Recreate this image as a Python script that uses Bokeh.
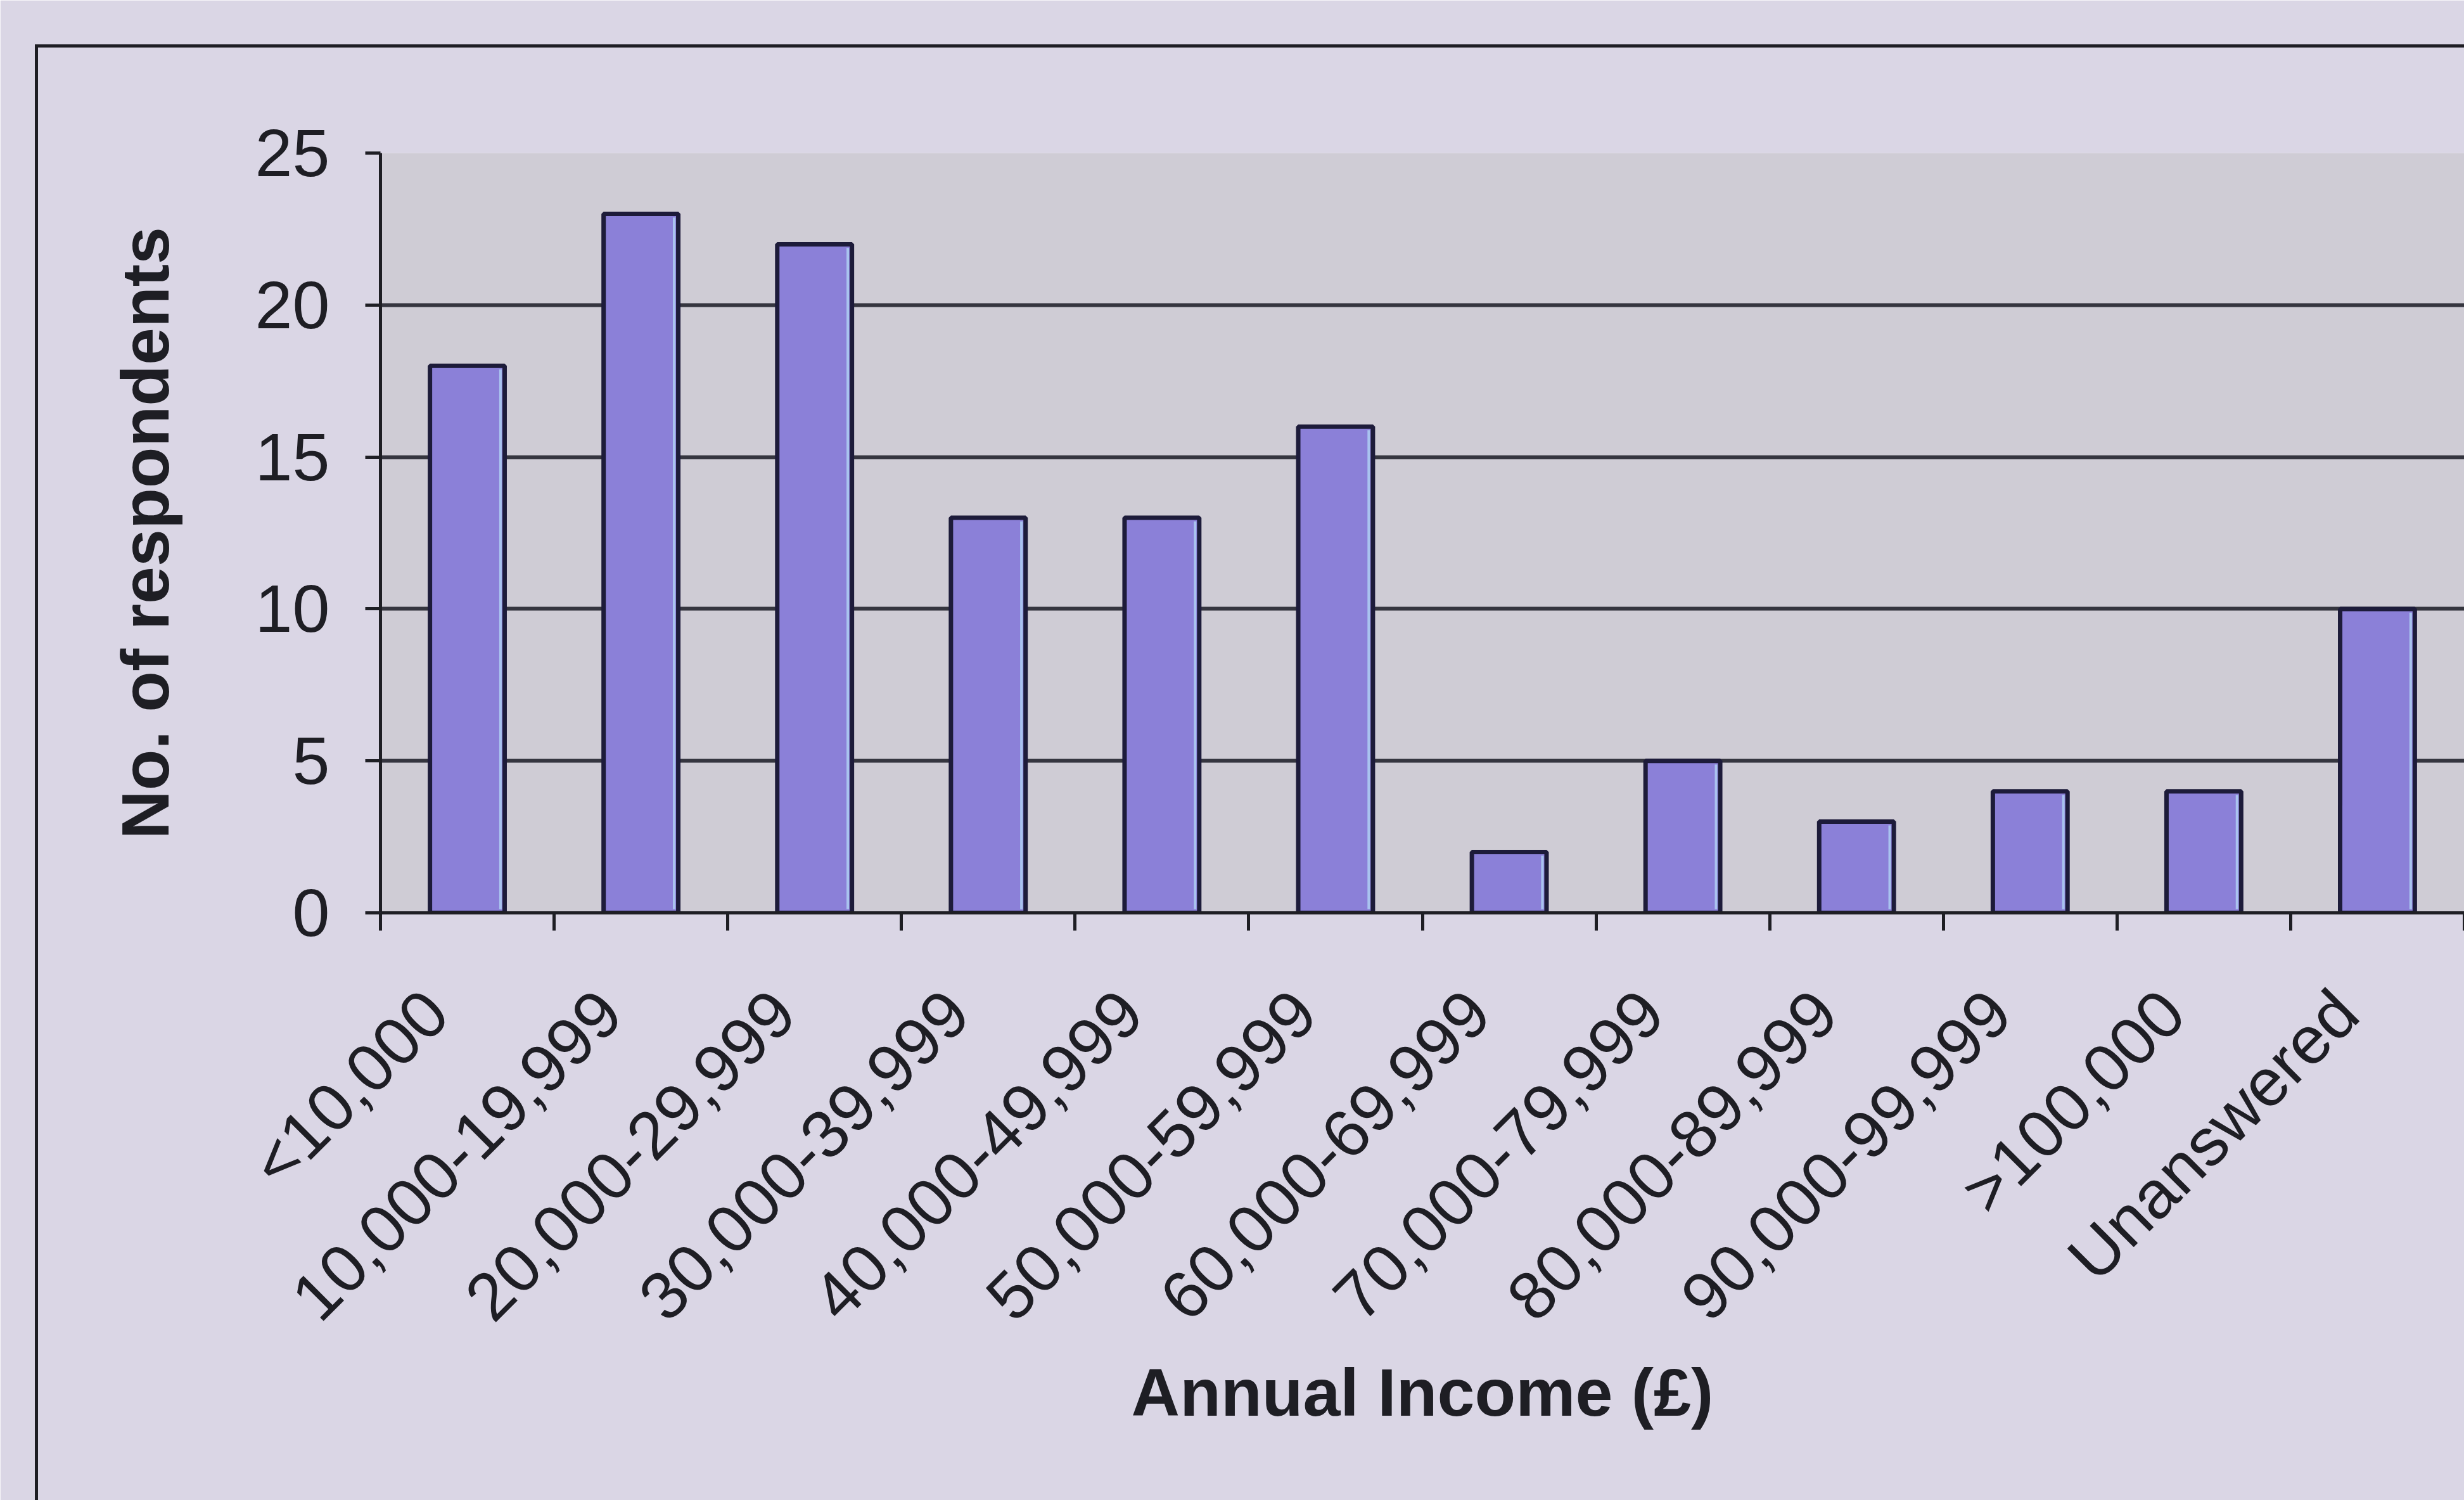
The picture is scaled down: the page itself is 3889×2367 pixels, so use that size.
import math
from bokeh.plotting import figure
from bokeh.models import Range1d, FixedTicker, LinearAxis, Grid, InlineStyleSheet
from bokeh.embed import file_html
from bokeh.resources import INLINE

# ---- data ----
categories = ["<10,000", "10,000-19,999", "20,000-29,999", "30,000-39,999",
              "40,000-49,999", "50,000-59,999", "60,000-69,999", "70,000-79,999",
              "80,000-89,999", "90,000-99,999", ">100,000", "Unanswered"]
respondents = [18, 23, 22, 13, 13, 16, 2, 5, 3, 4, 4, 10]
y_ticks = [0, 5, 10, 15, 20, 25]
x_title = "Annual Income (£)"
y_title = "No. of respondents"

# ---- styles ----
W, H = 3889, 2367
PAGE_BG = "#dad6e5"
PLOT_BG = "#cfccd5"
BAR_FILL = "#8b80d8"
BAR_LINE = "#1d1b3a"
BAR_HILITE = "#a9c3ef"
INK = "#1e1e24"
FONT = "Liberation Sans"
BAR_W = 0.43
LABEL_SHIFT = 0.18   # rotated labels end a little left of the category centre

n = len(categories)
centers = [i + 1 for i in range(n)]
bounds = [i + 0.5 for i in range(n + 1)]
label_pos = [c - LABEL_SHIFT for c in centers]

p = figure(width=W, height=H, output_backend="svg", toolbar_location=None,
           x_range=Range1d(0.5, n + 0.5), y_range=Range1d(0, 25),
           x_axis_type=None, y_axis_type=None,
           min_border_left=600, min_border_top=241, min_border_right=0,
           min_border_bottom=H - 1440)

p.background_fill_color = PLOT_BG
p.border_fill_color = PAGE_BG
p.outline_line_color = None

# y axis
yax = LinearAxis(ticker=FixedTicker(ticks=y_ticks, minor_ticks=[]))
yax.axis_label = y_title
yax.axis_label_text_font = FONT
yax.axis_label_text_font_style = "bold"
yax.axis_label_text_font_size = "106px"
yax.axis_label_text_color = INK
yax.axis_label_standoff = 112
yax.major_label_text_font = FONT
yax.major_label_text_font_size = "106px"
yax.major_label_text_color = INK
yax.major_label_standoff = 56
yax.major_tick_out = 24
yax.major_tick_in = 0
yax.major_tick_line_width = 5
yax.major_tick_line_color = INK
yax.axis_line_width = 5
yax.axis_line_color = INK
p.add_layout(yax, "left")

# x axis: labels near centres, tick marks at category boundaries
xax = LinearAxis(ticker=FixedTicker(ticks=label_pos, minor_ticks=bounds))
xax.major_label_overrides = {lp: lab for lp, lab in zip(label_pos, categories)}
xax.major_label_orientation = math.pi / 4
xax.major_label_text_font = FONT
xax.major_label_text_font_size = "106px"
xax.major_label_text_color = INK
xax.major_label_standoff = 112
xax.major_tick_out = 0
xax.major_tick_in = 0
xax.minor_tick_out = 28
xax.minor_tick_in = 0
xax.minor_tick_line_width = 5
xax.minor_tick_line_color = INK
xax.axis_line_width = 5
xax.axis_line_color = INK
xax.axis_label = x_title
xax.axis_label_text_font = FONT
xax.axis_label_text_font_style = "bold"
xax.axis_label_text_font_size = "106px"
xax.axis_label_text_color = INK
xax.axis_label_standoff = -12
p.add_layout(xax, "below")

# gridlines
p.add_layout(Grid(dimension=1, ticker=FixedTicker(ticks=y_ticks),
                  grid_line_color="#35353f", grid_line_width=6))

# bars
p.vbar(x=centers, top=respondents, width=BAR_W, bottom=0,
       fill_color=BAR_FILL, line_color=BAR_LINE, line_width=7)
# light inner edge seen on the right side of each bar
p.segment(x0=[c + BAR_W / 2 - 0.024 for c in centers], y0=[0.12] * n,
          x1=[c + BAR_W / 2 - 0.024 for c in centers],
          y1=[v - 0.12 for v in respondents],
          line_color=BAR_HILITE, line_width=4)

# outer frame of the chart object (its right and bottom sides are cut off)
p.stylesheets = [InlineStyleSheet(css=(
    ":host { position: relative; }"
    ":host::after { content: ''; position: absolute; left: 55px; top: 70px;"
    " right: 0; bottom: 0; border-left: 5px solid %s; border-top: 5px solid %s;"
    " pointer-events: none; z-index: 10; }" % (INK, INK)))]

open("out.html", "w").write(file_html(p, INLINE))
